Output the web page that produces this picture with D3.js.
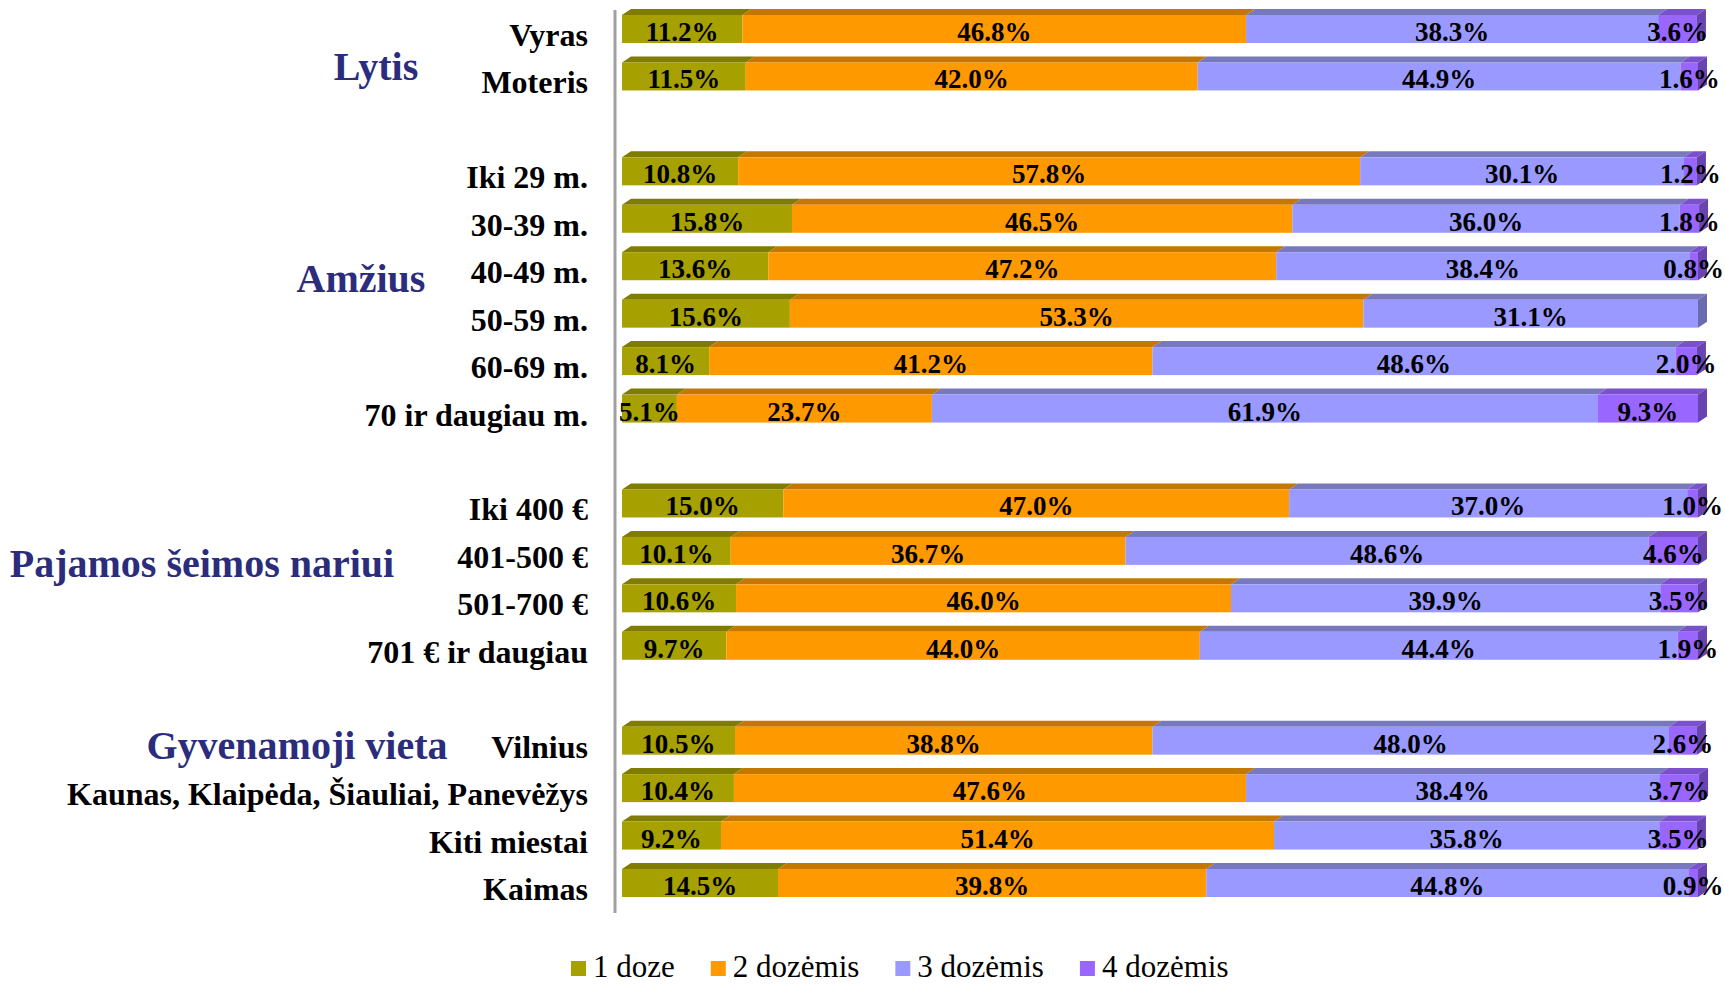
<!DOCTYPE html>
<html>
<head>
<meta charset="utf-8">
<script src="https://cdn.jsdelivr.net/npm/d3@7"></script>
<style>
  body { margin: 0; background: #fff; }
  svg { display: block; }
  text { font-family: "Liberation Serif", "Times New Roman", serif; }
</style>
</head>
<body>
<svg id="canvas" width="1725" height="984"></svg>
<script>
// data
const categories = ["Vyras", "Moteris", "Iki 29 m.", "30-39 m.", "40-49 m.", "50-59 m.", "60-69 m.",
    "70 ir daugiau m.", "Iki 400 €", "401-500 €", "501-700 €", "701 € ir daugiau", "Vilnius",
    "Kaunas, Klaipėda, Šiauliai, Panevėžys", "Kiti miestai", "Kaimas"];
const dose1 = [11.2, 11.5, 10.8, 15.8, 13.6, 15.6, 8.1, 5.1, 15.0, 10.1, 10.6, 9.7, 10.5, 10.4, 9.2, 14.5];
const dose2 = [46.8, 42.0, 57.8, 46.5, 47.2, 53.3, 41.2, 23.7, 47.0, 36.7, 46.0, 44.0, 38.8, 47.6, 51.4, 39.8];
const dose3 = [38.3, 44.9, 30.1, 36.0, 38.4, 31.1, 48.6, 61.9, 37.0, 48.6, 39.9, 44.4, 48.0, 38.4, 35.8, 44.8];
const dose4 = [3.6, 1.6, 1.2, 1.8, 0.8, 0, 2.0, 9.3, 1.0, 4.6, 3.5, 1.9, 2.6, 3.7, 3.5, 0.9];
const groupNames = ["Lytis", "Amžius", "Pajamos šeimos nariui", "Gyvenamoji vieta"];
const groupSizes = [2, 6, 4, 4];
const seriesNames = ["1 doze", "2 dozėmis", "3 dozėmis", "4 dozėmis"];

let canvas = d3.select('#canvas');

// colours: front, top, side
const colors = [
    {front: '#a6a000', top: '#7f7c00', side: '#6f6c00'},
    {front: '#ff9900', top: '#c47800', side: '#b06a00'},
    {front: '#9999ff', top: '#7878bc', side: '#6b6bb0'},
    {front: '#9966ff', top: '#7a50cc', side: '#6844b0'}
];

// slots with an empty slot between groups
let slots = [];
let idx = 0;
groupSizes.forEach((n, g) => {
    if (g > 0) slots.push('gap' + g);
    for (let i = 0; i < n; i++) {
        slots.push(categories[idx]);
        idx++;
    }
});

let y = d3.scalePoint().domain(slots).range([29, 883]);
let x = d3.scaleLinear().domain([0, 100]).range([622, 1698]);

const barH = 28, dx = 9, dy = 6;

let rows = categories.map((c, i) => {
    let vals = [dose1[i], dose2[i], dose3[i], dose4[i]];
    let acc = 0;
    let segs = vals.map((v, s) => {
        let seg = {s: s, v: v, x0: acc, x1: acc + v};
        acc += v;
        return seg;
    });
    let last = segs.filter(d => d.v > 0).pop();
    return {name: c, segs: segs, last: last};
});

// axis line
canvas.append('line')
    .attr('x1', 615).attr('x2', 615)
    .attr('y1', 10).attr('y2', 913)
    .attr('stroke', '#a0a0a0')
    .attr('stroke-width', 3);

let rowG = canvas.selectAll('g.row')
    .data(rows)
    .enter()
    .append('g')
    .attr('class', 'row')
    .attr('transform', d => 'translate(0,' + (y(d.name) - barH / 2) + ')');

// top faces
rowG.selectAll('path.top')
    .data(d => d.segs.filter(s => s.v > 0))
    .enter()
    .append('path')
    .attr('fill', d => colors[d.s].top)
    .attr('d', d => {
        let a = x(d.x0), b = x(d.x1);
        return 'M' + a + ',0L' + (a + dx) + ',' + (-dy) + 'L' + (b + dx) + ',' + (-dy) + 'L' + b + ',0Z';
    });

// front faces
rowG.selectAll('rect.front')
    .data(d => d.segs.filter(s => s.v > 0))
    .enter()
    .append('rect')
    .attr('x', d => x(d.x0))
    .attr('y', 0)
    .attr('width', d => x(d.x1) - x(d.x0))
    .attr('height', barH)
    .attr('fill', d => colors[d.s].front);

// side face on the right end
rowG.append('path')
    .attr('fill', d => colors[d.last.s].side)
    .attr('d', d => {
        let b = x(d.last.x1);
        return 'M' + b + ',0L' + (b + dx) + ',' + (-dy) + 'L' + (b + dx) + ',' + (barH - dy) + 'L' + b + ',' + barH + 'Z';
    });

// value labels
rowG.selectAll('text.val')
    .data(d => d.segs.filter(s => s.v > 0))
    .enter()
    .append('text')
    .attr('x', d => x((d.x0 + d.x1) / 2))
    .attr('y', barH / 2 + 12)
    .attr('text-anchor', 'middle')
    .style('font-size', '27px')
    .style('font-weight', 'bold')
    .attr('fill', '#000')
    .text(d => d.v.toFixed(1) + '%');

// category labels
canvas.selectAll('text.cat')
    .data(categories)
    .enter()
    .append('text')
    .attr('x', 588)
    .attr('y', d => y(d) + 17)
    .attr('text-anchor', 'end')
    .style('font-size', '32px')
    .style('font-weight', 'bold')
    .attr('fill', '#000')
    .text(d => d);

// group labels
const groupPos = [[376, 80], [361, 292], [202, 577], [297, 759]];
canvas.selectAll('text.grp')
    .data(groupNames)
    .enter()
    .append('text')
    .attr('x', (d, i) => groupPos[i][0])
    .attr('y', (d, i) => groupPos[i][1])
    .attr('text-anchor', 'middle')
    .style('font-size', '40px')
    .style('font-weight', 'bold')
    .attr('fill', '#2b2d7c')
    .text(d => d);

// legend
let legend = canvas.append('g');
let lx = 571;
seriesNames.forEach((name, i) => {
    legend.append('rect')
        .attr('x', lx).attr('y', 961)
        .attr('width', 15).attr('height', 15)
        .attr('fill', colors[i].front);
    let t = legend.append('text')
        .attr('x', lx + 22).attr('y', 977)
        .style('font-size', '31px')
        .attr('fill', '#000')
        .text(name);
    lx += 22 + t.node().getComputedTextLength() + 36;
});
</script>
</body>
</html>
